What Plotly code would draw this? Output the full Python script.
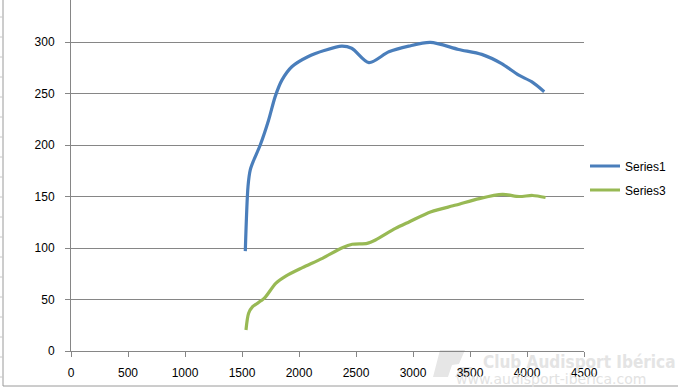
import plotly.graph_objects as go

# ---- data ----
s1_x = [1529, 1553, 1573, 1602, 1660, 1733, 1791, 1850, 1937, 2082, 2228, 2374, 2462,
        2613, 2788, 2962, 3152, 3400, 3603, 3778, 3924, 4040, 4151]
s1_y = [97, 160, 176, 185, 200, 224, 247, 263, 276, 286, 292, 296, 294,
        280, 290.5, 296, 299.6, 292.8, 288, 279, 268, 261.5, 251.8]

s3_x = [1535, 1558, 1593, 1694, 1796, 1884, 2030, 2205, 2380, 2467, 2598, 2671, 2846,
        2969, 3159, 3378, 3582, 3786, 3932, 4049, 4163]
s3_y = [20.4, 36.6, 43, 51, 65.7, 72.8, 81, 90, 100.3, 103.6, 104.5, 107.8, 119,
        125.5, 135.2, 141.7, 148, 152, 150, 151, 149]

x_ticks = [0, 500, 1000, 1500, 2000, 2500, 3000, 3500, 4000, 4500]
y_ticks = [0, 50, 100, 150, 200, 250, 300]

# ---- layout geometry (pixels) ----
W, H = 678, 389
L, R, T, B = 71, 584, 0, 351
GRAY = "#868686"
FONT = "Liberation Sans, Arial, sans-serif"


def px(xp):
    return (xp - L) / (R - L)


def py(yp):
    return (B - yp) / (B - T)


fig = go.Figure()
fig.add_trace(go.Scatter(x=s1_x, y=s1_y, mode="lines", name="Series1",
                         line=dict(color="#4A7EBB", width=3.2, shape="spline", smoothing=0.8),
                         legend="legend"))
fig.add_trace(go.Scatter(x=s3_x, y=s3_y, mode="lines", name="Series3",
                         line=dict(color="#98B954", width=3.2, shape="spline", smoothing=0.8),
                         legend="legend2"))

shapes = []
# sheet borders (left and bottom)
shapes.append(dict(type="line", xref="paper", yref="paper", x0=px(3), x1=px(3), y0=py(386), y1=py(-5),
                   line=dict(color="#9a9a9a", width=1)))
shapes.append(dict(type="line", xref="paper", yref="paper", x0=px(3), x1=px(680), y0=py(386), y1=py(386),
                   line=dict(color="#9a9a9a", width=1)))
for k in range(20):
    yy = 17 + 20 * k
    if yy > 384:
        break
    shapes.append(dict(type="line", xref="paper", yref="paper", x0=px(0), x1=px(3), y0=py(yy), y1=py(yy),
                       line=dict(color="#c8c8c8", width=1)))


# watermark logo
def path(pts):
    return "M " + " L ".join(f"{px(a):.4f},{py(b):.4f}" for a, b in pts) + " Z"


shapes.append(dict(type="path", xref="paper", yref="paper",
                   path=path([(433, 377), (440, 350), (465, 350), (459, 364), (452, 365), (448, 377)]),
                   fillcolor="#e6e6e6", line=dict(width=0), layer="below"))
shapes.append(dict(type="path", xref="paper", yref="paper",
                   path=path([(455, 377), (460, 367), (472, 367), (467, 377)]),
                   fillcolor="#e6e6e6", line=dict(width=0), layer="below"))

annotations = [
    dict(text="<b>Club Audisport Ibérica</b>", xref="paper", yref="paper", x=px(677), y=py(362),
         xanchor="right", yanchor="middle", showarrow=False,
         font=dict(family="DejaVu Sans Condensed, Liberation Sans Narrow, sans-serif",
                   size=17, color="#e4e4e4")),
    dict(text="www.audisport-iberica.com", xref="paper", yref="paper", x=px(648), y=py(379),
         xanchor="right", yanchor="middle", showarrow=False,
         font=dict(family="DejaVu Sans, sans-serif", size=14, color="#e2e2e2")),
]

fig.update_layout(
    width=W, height=H,
    margin=dict(l=L, r=W - R, t=T, b=H - B, pad=0, autoexpand=False),
    paper_bgcolor="white", plot_bgcolor="white",
    font=dict(family=FONT, size=12, color="#000000"),
    showlegend=True,
    legend=dict(xref="container", yref="container", x=585 / W, y=1 - 166 / H,
                xanchor="left", yanchor="middle",
                font=dict(size=12), bgcolor="rgba(0,0,0,0)", itemwidth=30),
    legend2=dict(xref="container", yref="container", x=585 / W, y=1 - 190 / H,
                 xanchor="left", yanchor="middle",
                 font=dict(size=12), bgcolor="rgba(0,0,0,0)", itemwidth=30),
    shapes=shapes,
    annotations=annotations,
)
fig.update_xaxes(range=[0, 4500], tickvals=x_ticks, ticktext=[str(v) for v in x_ticks],
                 showgrid=False, zeroline=False, showline=True, linecolor=GRAY, linewidth=1,
                 ticks="outside", ticklen=5, tickcolor=GRAY, ticklabelstandoff=6, automargin=False)
fig.update_yaxes(range=[0, 340.8], tickvals=y_ticks, ticktext=[str(v) for v in y_ticks],
                 showgrid=True, gridcolor=GRAY, gridwidth=1, zeroline=False,
                 showline=True, linecolor=GRAY, linewidth=1,
                 ticks="outside", ticklen=5, tickcolor=GRAY, ticklabelstandoff=8, automargin=False)

fig.write_html("out.html", config={"displayModeBar": False},
               post_script="document.body.style.margin='0';document.body.style.overflow='hidden';")
